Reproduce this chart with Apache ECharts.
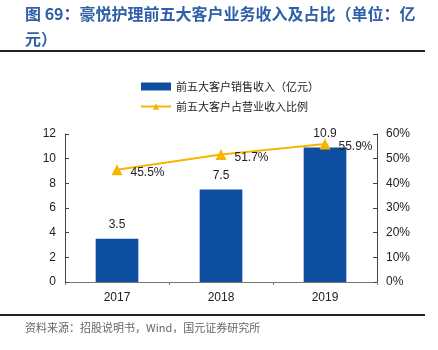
<!DOCTYPE html>
<html>
<head>
<meta charset="utf-8">
<script src="https://cdn.jsdelivr.net/npm/echarts@6/dist/echarts.min.js"></script>
<style>
  html, body { margin: 0; padding: 0; background: #fff; }
  #chart { width: 438px; height: 350px; }
</style>
</head>
<body>
<div id="chart"></div>
<script>
// 数据
const years = ["2017", "2018", "2019"]
const revenue = [3.5, 7.5, 10.9]        // 前五大客户销售收入（亿元）
const share = [45.5, 51.7, 55.9]        // 占营业收入比例 %

const cnFont = "Noto Sans CJK SC"
const numFont = "Liberation Sans"

const chart = echarts.init(document.getElementById("chart"))

const option = {
  animation: false,
  title: {
    text: "图 69：豪悦护理前五大客户业务收入及占比（单位：亿\n元）",
    left: 25,
    top: 1,
    padding: 0,
    textStyle: {
      fontFamily: cnFont,
      fontSize: 16,
      fontWeight: "bold",
      color: "#2f5fa8",
      lineHeight: 25
    }
  },
  legend: {
    orient: "vertical",
    left: 140,
    top: 81,
    padding: 0,
    itemGap: 9,
    itemWidth: 30,
    itemHeight: 8,
    textStyle: { fontFamily: cnFont, fontSize: 11, color: "#222" },
    data: [
      { name: "前五大客户销售收入（亿元）", icon: "rect" },
      { name: "前五大客户占营业收入比例" }
    ]
  },
  grid: { left: 65, right: 61, top: 134, bottom: 68 },
  xAxis: {
    type: "category",
    data: years,
    axisLine: { lineStyle: { color: "#777" } },
    axisTick: { show: true, inside: false, length: 3, lineStyle: { color: "#777" } },
    axisLabel: { fontFamily: numFont, fontSize: 12, color: "#222", margin: 10 }
  },
  yAxis: [
    {
      type: "value",
      min: 0, max: 12, interval: 2,
      splitLine: { show: false },
      axisLine: { show: true, lineStyle: { color: "#444" } },
      axisTick: { show: true, inside: true, length: 4, lineStyle: { color: "#444" } },
      axisLabel: { fontFamily: numFont, fontSize: 12, color: "#222", margin: 9 }
    },
    {
      type: "value",
      min: 0, max: 60, interval: 10,
      splitLine: { show: false },
      axisLine: { show: true, lineStyle: { color: "#444" } },
      axisTick: { show: true, inside: true, length: 4, lineStyle: { color: "#444" } },
      axisLabel: { fontFamily: numFont, fontSize: 12, color: "#222", margin: 9, formatter: "{value}%" }
    }
  ],
  series: [
    {
      name: "前五大客户销售收入（亿元）",
      type: "bar",
      data: revenue,
      barWidth: "41%",
      itemStyle: { color: "#0d4ea0" },
      label: {
        show: true,
        position: "top",
        distance: 8,
        fontFamily: numFont,
        fontSize: 12,
        color: "#222"
      }
    },
    {
      name: "前五大客户占营业收入比例",
      type: "line",
      yAxisIndex: 1,
      data: share,
      symbol: "triangle",
      symbolSize: 11,
      lineStyle: { color: "#f7b500", width: 2 },
      itemStyle: { color: "#f7b500" },
      label: {
        show: true,
        position: "right",
        distance: 8,
        offset: [0, 3],
        fontFamily: numFont,
        fontSize: 12,
        color: "#222",
        formatter: p => p.value.toFixed(1) + "%"
      }
    }
  ],
  graphic: [
    { type: "rect", shape: { x: 0, y: 50, width: 425, height: 2 }, style: { fill: "#222" } },
    { type: "rect", shape: { x: 0, y: 314, width: 425, height: 2 }, style: { fill: "#222" } },
    {
      type: "text",
      left: 25,
      top: 322,
      style: {
        text: "资料来源：招股说明书，Wind，国元证券研究所",
        fontFamily: cnFont,
        fontSize: 11,
        fill: "#666"
      }
    }
  ]
}

chart.setOption(option)
</script>
</body>
</html>
